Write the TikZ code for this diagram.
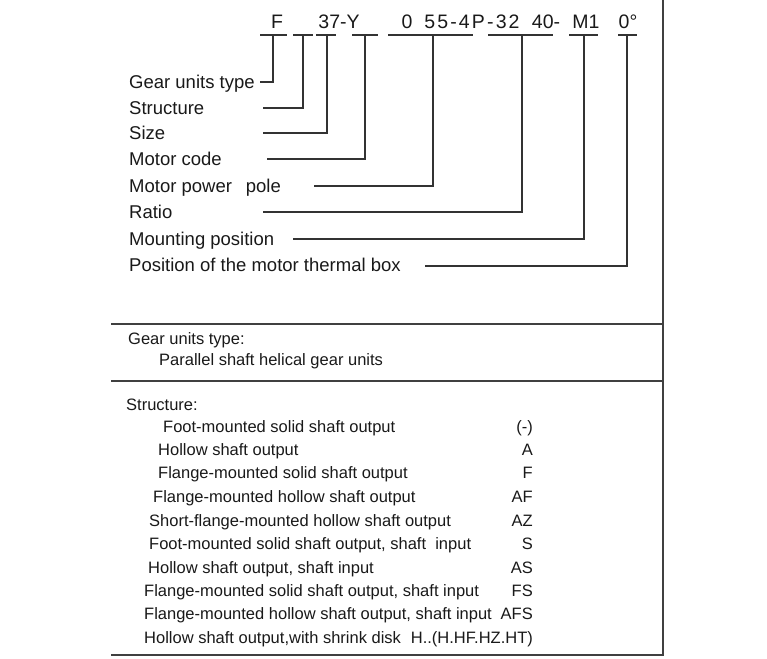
\documentclass[tikz,border=0pt]{standalone}
\usepackage{fontspec}
\setmainfont{Liberation Sans}
\begin{document}
\begin{tikzpicture}[x=1pt,y=-1pt,
  ln/.style={draw=black!80,line width=1.2pt},
  rule/.style={draw=black!75,line width=1.3pt},
  code/.style={inner sep=0pt,anchor=base,font=\fontsize{19.5}{22}\selectfont,text=black!90},
  lbl/.style={inner sep=0pt,anchor=base west,font=\fontsize{18.5}{21}\selectfont,text=black!90},
  itm/.style={inner sep=0pt,anchor=base west,font=\fontsize{16.5}{19}\selectfont,text=black!90},
  cd/.style={inner sep=0pt,anchor=base east,font=\fontsize{16.5}{19}\selectfont,text=black!90}]
\useasboundingbox (0,0) rectangle (767,658);
% frame rules
\coordinate (rt) at (663,0);
\coordinate (rb) at (663,656);
\draw[rule] (rt) -- (rb);
\coordinate (h1l) at (111,324); \coordinate (h1r) at (663,324);
\coordinate (h2l) at (111,381); \coordinate (h2r) at (663,381);
\coordinate (h3l) at (111,655); \coordinate (h3r) at (663,655);
\draw[rule] (h1l) -- (h1r);
\draw[rule] (h2l) -- (h2r);
\draw[rule] (h3l) -- (h3r);
% code texts (baseline)
\node[code] (cF) at (277,29) {F};
\node[code] (c37) at (339,29) {37-Y};
\node[code] (c0) at (407,29) {0};
\node[code] (c55) at (472,29) {\addfontfeatures{LetterSpace=11}55-4P-32};
\node[code] (c40) at (546,29) {40-};
\node[code] (cM) at (586,29) {M1};
\node[code] (cdeg) at (628,29) {0°};
% underlines
\foreach \a/\b/\n in {260/287/1,293/313/2,316/336/3,352/378/4,388/473/5,488/553/6,569/598/7,618/637/8}{
  \coordinate (ua\n) at (\a,35); \coordinate (ub\n) at (\b,35);
  \draw[ln] (ua\n) -- (ub\n);
}
% vertical drop points on underlines
\coordinate (u1) at (273,35);
\coordinate (u2) at (303,35);
\coordinate (u3) at (327,35);
\coordinate (u4) at (365,35);
\coordinate (u5) at (433,35);
\coordinate (u6) at (522,35);
\coordinate (u7) at (584,35);
\coordinate (u8) at (627,35);
% labels (baselines)
\node[lbl] (l1) at (129,88.5) {Gear units type};
\node[lbl] (l2) at (129,114.5) {Structure};
\node[lbl] (l3) at (129,139.5) {Size};
\node[lbl] (l4) at (129,165.5) {Motor code};
\node[lbl] (l5) at (129,192.5) {Motor power\hspace{0.75em}pole};
\node[lbl] (l6) at (129,218.5) {Ratio};
\node[lbl] (l7) at (129,245.5) {Mounting position};
\node[lbl] (l8) at (129,271.5) {Position of the motor thermal box};
% line starts
\coordinate (s1) at (260,82);
\coordinate (s2) at (263,108);
\coordinate (s3) at (263,133);
\coordinate (s4) at (267,159);
\coordinate (s5) at (314,186);
\coordinate (s6) at (263,212);
\coordinate (s7) at (293,239);
\coordinate (s8) at (425,266);
\foreach \n in {1,...,8}{ \draw[ln] (s\n) -| (u\n); }
% gear units type section
\node[itm] (g1) at (128,344) {Gear units type:};
\node[itm] (g2) at (159,365) {Parallel shaft helical gear units};
% structure section
\node[itm] (st) at (126,410) {Structure:};
\node[itm] (a1) at (163,432) {Foot-mounted solid shaft output};
\node[cd]  (b1) at (533,432) {(-)};
\node[itm] (a2) at (158,455) {Hollow shaft output};
\node[cd]  (b2) at (533,455) {A};
\node[itm] (a3) at (158,478) {Flange-mounted solid shaft output};
\node[cd]  (b3) at (533,478) {F};
\node[itm] (a4) at (153,502) {Flange-mounted hollow shaft output};
\node[cd]  (b4) at (533,502) {AF};
\node[itm] (a5) at (149,526) {Short-flange-mounted hollow shaft output};
\node[cd]  (b5) at (533,526) {AZ};
\node[itm] (a6) at (149,549) {Foot-mounted solid shaft output, shaft\ \ input};
\node[cd]  (b6) at (533,549) {S};
\node[itm] (a7) at (148,573) {Hollow shaft output, shaft input};
\node[cd]  (b7) at (533,573) {AS};
\node[itm] (a8) at (144,596) {Flange-mounted solid shaft output, shaft input};
\node[cd]  (b8) at (533,596) {FS};
\node[itm] (a9) at (144,619) {Flange-mounted hollow shaft output, shaft input};
\node[cd]  (b9) at (533,619) {AFS};
\node[itm] (a10) at (144,643) {Hollow shaft output,with shrink disk};
\node[cd]  (b10) at (533,643) {H..(H.HF.HZ.HT)};
\end{tikzpicture}
\end{document}
